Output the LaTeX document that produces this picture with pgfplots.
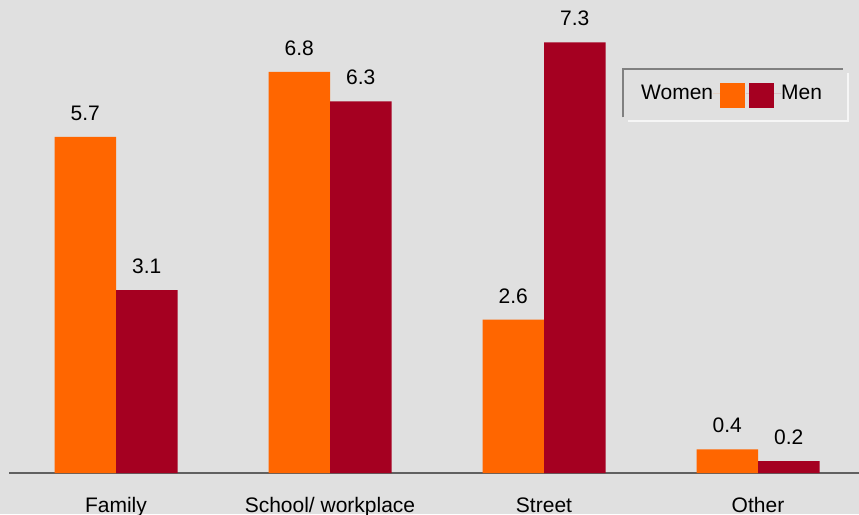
\documentclass[border=0pt]{standalone}
\usepackage{pgfplots}
\pgfplotsset{compat=1.18}
\usepackage{fontspec}
\setmainfont{Liberation Sans}
\definecolor{bgc}{HTML}{E0E0E0}
\definecolor{womenc}{HTML}{FF6600}
\definecolor{menc}{HTML}{A50021}
\definecolor{axc}{HTML}{606060}
\newcommand{\bigf}{\fontsize{21}{25}\selectfont}
\begin{document}
\begin{tikzpicture}[x=1pt,y=1pt]
\fill[bgc] (0,0) rectangle (859,514);
\useasboundingbox (0,0) rectangle (859,514);
\begin{axis}[
  at={(9pt,41pt)}, anchor=south west,
  scale only axis, width=850pt, height=473pt,
  xmin=-0.5, xmax=3.472, ymin=0, ymax=8.02,
  ybar=0pt, bar width=61.5pt,
  hide y axis,
  axis x line=bottom,
  x axis line style={-, draw=axc, line width=1.3pt},
  xtick={0,1,2,3},
  xticklabels={Family,School/ workplace,Street,Other},
  xtick style={draw=none},
  xticklabel style={font=\bigf, anchor=base, yshift=-37.5pt, inner sep=0pt},
  /pgf/number format/assume math mode=true,
  nodes near coords,
  nodes near coords style={font=\bigf, anchor=base, yshift=16.5pt, inner sep=0pt,
     /pgf/number format/.cd, fixed, fixed zerofill, precision=1},
  legend columns=3,
  legend style={name=leg, at={(0.7435,0.826)}, anchor=north west, draw=none, fill=none,
     font=\bigf, inner sep=0pt, column sep=0pt, row sep=0pt,
     nodes={inner sep=0pt},
     /tikz/every even column/.style={column sep=0pt},
     /tikz/every odd column/.style={column sep=0pt}},
]
\addlegendimage{empty legend}
\addlegendentry{Women}
\addplot[fill=womenc, draw=none,
  legend image code/.code={\path (0pt,0pt) -- (32pt,0pt);
     \fill[womenc] (7pt,-14pt) rectangle (32pt,11pt);}]
  coordinates {(0,5.7) (1,6.8) (2,2.6) (3,0.4)};
\addlegendentry{}
\addplot[fill=menc, draw=none,
  legend image code/.code={\path (0pt,0pt) -- (35pt,0pt);
     \fill[menc] (3pt,-14pt) rectangle (28pt,11pt);}]
  coordinates {(0,3.1) (1,6.3) (2,7.3) (3,0.2)};
\addlegendentry{Men}
\end{axis}
\draw[gray, line width=2pt] ([shift={(-18pt,-9.7pt)}]leg.south west) -- ([shift={(-18pt,13.3pt)}]leg.north west) -- ([shift={(21pt,13.3pt)}]leg.north east);
\draw[white!70!bgc, line width=2pt] ([shift={(-13pt,-13.7pt)}]leg.south west) -- ([shift={(26pt,-13.7pt)}]leg.south east) -- ([shift={(26pt,9.3pt)}]leg.north east);
\end{tikzpicture}
\end{document}
